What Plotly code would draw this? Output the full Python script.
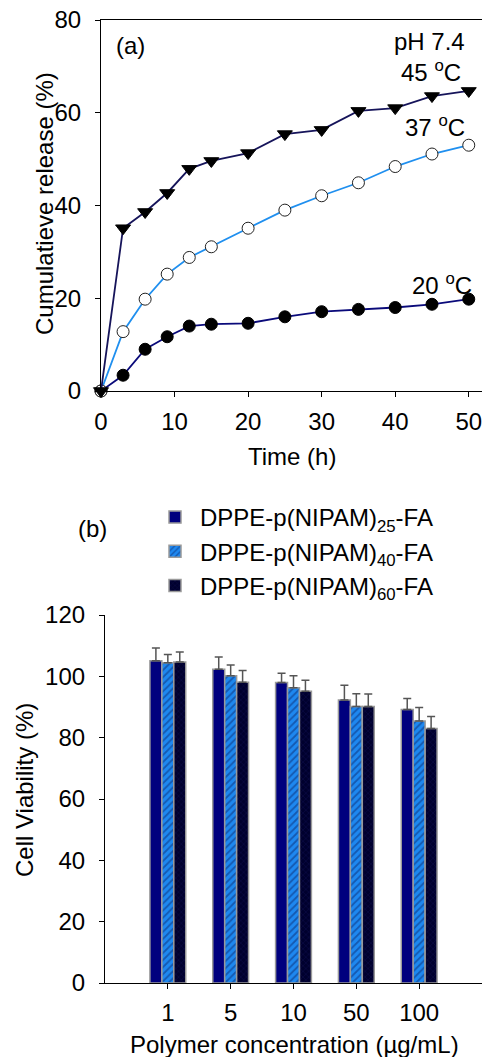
import plotly.graph_objects as go

# ---- Panel (a): cumulative release vs time ----
time_h = [0, 3, 6, 9, 12, 15, 20, 25, 30, 35, 40, 45, 50]
release_45 = [0, 35.1, 38.6, 42.7, 47.9, 49.6, 51.3, 55.4, 56.3, 60.4, 61.0, 63.6, 64.7]
release_37 = [0, 12.8, 19.8, 25.2, 28.8, 31.1, 35.1, 39.0, 42.1, 44.9, 48.4, 51.1, 53.0]
release_20 = [0, 3.4, 9.0, 11.7, 14.0, 14.4, 14.6, 16.0, 17.1, 17.6, 18.0, 18.7, 19.8]

# ---- Panel (b): cell viability ----
concentrations = ["1", "5", "10", "50", "100"]
viab_25 = [105.1, 102.3, 98.0, 92.3, 89.2]
err_25 = [4.1, 4.0, 3.0, 4.8, 3.6]
viab_40 = [104.4, 100.2, 96.3, 90.2, 85.4]
err_40 = [2.7, 3.5, 3.9, 4.1, 4.4]
viab_60 = [104.7, 98.1, 95.1, 90.2, 83.0]
err_60 = [3.2, 3.8, 3.6, 4.0, 3.9]

W, H = 482, 1057
FONT = "Liberation Sans, Arial, sans-serif"
FS = 24


def px_x(p):
    return p / W


def px_y(p):
    return 1 - p / H


fig = go.Figure()

fig.add_trace(go.Scatter(
    x=time_h, y=release_20, mode="lines+markers", showlegend=False,
    line=dict(color="#0a0a7a", width=1.8),
    marker=dict(symbol="circle", size=12, color="black", line=dict(color="black", width=1)),
    cliponaxis=False, xaxis="x", yaxis="y"))
fig.add_trace(go.Scatter(
    x=time_h, y=release_37, mode="lines+markers", showlegend=False,
    line=dict(color="#1f8fef", width=1.8),
    marker=dict(symbol="circle", size=12, color="white", line=dict(color="#222", width=1)),
    cliponaxis=False, xaxis="x", yaxis="y"))
fig.add_trace(go.Scatter(
    x=time_h, y=release_45, mode="lines+markers", showlegend=False,
    line=dict(color="#16145a", width=1.8),
    marker=dict(symbol="triangle-down", size=13, color="black", line=dict(color="black", width=1)),
    cliponaxis=False, xaxis="x", yaxis="y"))

bar_outline = dict(color="#9a9a9a", width=1.5)
err_style = dict(type="data", symmetric=False, arrayminus=[0] * 5,
                 color="#555555", thickness=1.5, width=4)

fig.add_trace(go.Bar(
    x=concentrations, y=viab_25, name="DPPE-p(NIPAM)<sub>25</sub>-FA",
    marker=dict(color="#00007e", line=bar_outline),
    error_y=dict(array=err_25, **err_style), xaxis="x2", yaxis="y2"))
fig.add_trace(go.Bar(
    x=concentrations, y=viab_40, name="DPPE-p(NIPAM)<sub>40</sub>-FA",
    marker=dict(color="#1e88f0", line=bar_outline,
                pattern=dict(shape="/", fgcolor="#0b2a70", bgcolor="#1e88f0",
                             size=5, solidity=0.35)),
    error_y=dict(array=err_40, **err_style), xaxis="x2", yaxis="y2"))
fig.add_trace(go.Bar(
    x=concentrations, y=viab_60, name="DPPE-p(NIPAM)<sub>60</sub>-FA",
    marker=dict(color="#00002e", line=bar_outline,
                pattern=dict(shape="x", fgcolor="#15155a", bgcolor="#00002e",
                             size=4, solidity=0.3)),
    error_y=dict(array=err_60, **err_style), xaxis="x2", yaxis="y2"))

axis_common = dict(showgrid=False, zeroline=False, showline=True, linecolor="black",
                   linewidth=1.2, ticks="outside", ticklen=5, tickcolor="black",
                   tickfont=dict(family=FONT, size=FS, color="black"), automargin=False)

fig.update_layout(
    width=W, height=H,
    margin=dict(l=0, r=0, t=0, b=0),
    paper_bgcolor="white", plot_bgcolor="white",
    font=dict(family=FONT, size=FS, color="black"),
    barmode="group", bargap=0.43, bargroupgap=0,
    xaxis=dict(domain=[px_x(101), 1], range=[0, 51.8], tickvals=[0, 10, 20, 30, 40, 50],
               mirror=True, anchor="y", ticklabelstandoff=4, ticklabeloverflow="allow",
               **axis_common),
    yaxis=dict(domain=[px_y(391), px_y(20)], range=[0, 80], tickvals=[0, 20, 40, 60, 80],
               anchor="x", ticklabelstandoff=9, **axis_common),
    xaxis2=dict(domain=[px_x(105), 1], range=[-1.0, 5.0], anchor="y2",
                ticklabelstandoff=3, **axis_common),
    yaxis2=dict(domain=[px_y(983), px_y(615)], range=[0, 120],
                tickvals=[0, 20, 40, 60, 80, 100, 120], anchor="x2",
                ticklabelstandoff=9, **axis_common),
    legend=dict(x=px_x(150), y=px_y(495), xanchor="left", yanchor="top",
                bgcolor="rgba(0,0,0,0)", font=dict(family=FONT, size=FS),
                itemwidth=40, tracegroupgap=0),
)

annots = [
    dict(text="Cumulatieve release (%)", x=px_x(44), y=px_y(204), textangle=-90),
    dict(text="Time (h)", x=px_x(292), y=px_y(457)),
    dict(text="Cell Viability (%)", x=px_x(24), y=px_y(790), textangle=-90),
    dict(text="Polymer concentration (\u00b5g/mL)", x=px_x(294), y=px_y(1044)),
    dict(text="(a)", x=px_x(130), y=px_y(45)),
    dict(text="pH 7.4", x=px_x(467), y=px_y(42), xanchor="right"),
    dict(text="45 <sup>o</sup>C", x=px_x(463), y=px_y(71), xanchor="right"),
    dict(text="37 <sup>o</sup>C", x=px_x(467), y=px_y(126), xanchor="right"),
    dict(text="20 <sup>o</sup>C", x=px_x(474), y=px_y(284), xanchor="right"),
    dict(text="(b)", x=px_x(92), y=px_y(528)),
]
for a in annots:
    fig.add_annotation(xref="paper", yref="paper", showarrow=False,
                       font=dict(family=FONT, size=FS, color="black"),
                       yanchor="middle", **({"xanchor": "center"} | a))

fig.write_html("out.html")
